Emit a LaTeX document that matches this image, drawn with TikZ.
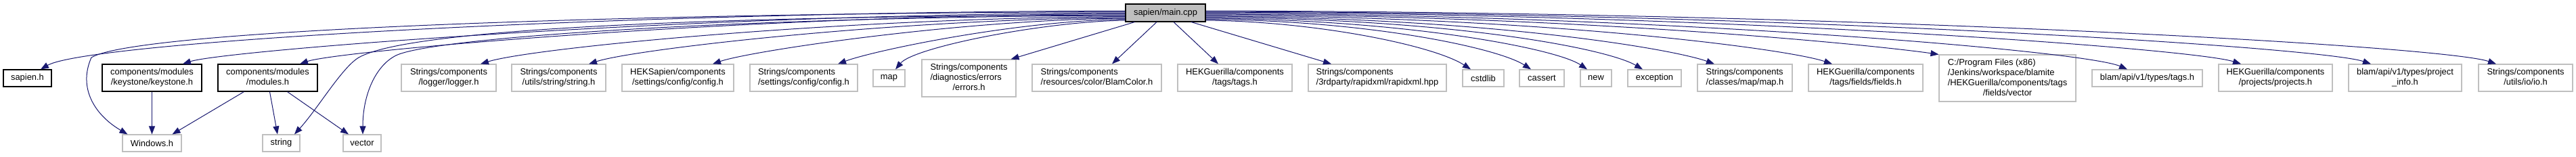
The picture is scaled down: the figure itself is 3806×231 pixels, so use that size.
\documentclass[tikz,border=0pt]{standalone}
\usepackage{fontspec}
\setmainfont{Liberation Sans}
\usetikzlibrary{arrows.meta,calc}
\definecolor{edgeblue}{HTML}{191970}
\definecolor{boxgray}{HTML}{BFBFBF}
\definecolor{rootfill}{HTML}{BFBFBF}
\newcommand{\lbl}[2]{\begin{tabular}{@{}l@{}}#1\\\multicolumn{1}{@{}c@{}}{#2}\end{tabular}}
\begin{document}
\begin{tikzpicture}[x=1pt,y=1pt,
  basebox/.style={inner sep=0pt, line width=1.1pt, font=\fontsize{12.9}{15}\selectfont, align=center},
  bbox/.style={basebox, draw=black},
  gbox/.style={basebox, draw=boxgray},
  rootbox/.style={basebox, draw=black, fill=rootfill},
  dep/.style={draw=edgeblue, line width=1pt, -{Triangle[length=12pt,width=9pt]}}]
\useasboundingbox (0,0) rectangle (3806,-231);
% nodes
\node[rootbox, minimum width=118, minimum height=26] (root) at (1722,-19) {sapien/main.cpp};
\node[bbox, minimum width=71, minimum height=25] (sapien) at (40.5,-115.5) {sapien.h};
\node[bbox, minimum width=147, minimum height=40] (keystone) at (224.5,-115) {\lbl{components/modules}{/keystone/keystone.h}};
\node[bbox, minimum width=147, minimum height=40] (modules) at (395.5,-115) {\lbl{components/modules}{/modules.h}};
\node[gbox, minimum width=140, minimum height=40] (logger) at (663,-115) {\lbl{Strings/components}{/logger/logger.h}};
\node[gbox, minimum width=139, minimum height=40] (stringh) at (825.5,-115) {\lbl{Strings/components}{/utils/string/string.h}};
\node[gbox, minimum width=165, minimum height=40] (heksconfig) at (1001.5,-115) {\lbl{HEKSapien/components}{/settings/config/config.h}};
\node[gbox, minimum width=159, minimum height=40] (strconfig) at (1187.5,-115) {\lbl{Strings/components}{/settings/config/config.h}};
\node[gbox, minimum width=47, minimum height=25] (map) at (1313.5,-115.5) {map};
\node[gbox, minimum width=139, minimum height=55] (errors) at (1431.5,-115.5) {\lbl{Strings/components\\/diagnostics/errors}{/errors.h}};
\node[gbox, minimum width=191, minimum height=40] (blamcolor) at (1620.5,-115) {\lbl{Strings/components}{/resources/color/BlamColor.h}};
\node[gbox, minimum width=169, minimum height=40] (tags) at (1824.5,-115) {\lbl{HEKGuerilla/components}{/tags/tags.h}};
\node[gbox, minimum width=204, minimum height=40] (rapidxml) at (2035,-115) {\lbl{Strings/components}{/3rdparty/rapidxml/rapidxml.hpp}};
\node[gbox, minimum width=61, minimum height=25] (cstdlib) at (2191.5,-115.5) {cstdlib};
\node[gbox, minimum width=66, minimum height=25] (cassert) at (2278,-115.5) {cassert};
\node[gbox, minimum width=46, minimum height=25] (new) at (2358,-115.5) {new};
\node[gbox, minimum width=79, minimum height=25] (exception) at (2444.5,-115.5) {exception};
\node[gbox, minimum width=140, minimum height=40] (mapmap) at (2578,-115) {\lbl{Strings/components}{/classes/map/map.h}};
\node[gbox, minimum width=169, minimum height=40] (fields) at (2756.5,-115) {\lbl{HEKGuerilla/components}{/tags/fields/fields.h}};
\node[gbox, minimum width=202, minimum height=69] (fvector) at (2966,-115.5) {\lbl{C:/Program Files (x86)\\/Jenkins/workspace/blamite\\/HEKGuerilla/components/tags}{/fields/vector}};
\node[gbox, minimum width=163, minimum height=25] (blamtags) at (3172.5,-115.5) {blam/api/v1/types/tags.h};
\node[gbox, minimum width=168, minimum height=40] (projects) at (3362,-115) {\lbl{HEKGuerilla/components}{/projects/projects.h}};
\node[gbox, minimum width=167, minimum height=40] (projinfo) at (3553.5,-115) {\lbl{blam/api/v1/types/project}{\_info.h}};
\node[gbox, minimum width=139, minimum height=40] (io) at (3731.5,-115) {\lbl{Strings/components}{/utils/io/io.h}};
\node[gbox, minimum width=87, minimum height=25] (windows) at (224.5,-211.5) {Windows.h};
\node[gbox, minimum width=55, minimum height=25] (string) at (415.5,-211.5) {string};
\node[gbox, minimum width=56, minimum height=25] (vector) at (535,-211.5) {vector};
% left edges from root
\draw[dep] ($(root.west)+(0,3)$) .. controls (900,-18) and (130,-62) .. ($(sapien.north)+(19.5,0)$);
\draw[dep] ($(root.west)+(0,1.5)$) .. controls (900,-19.5) and (200,-45) .. (135,-85) .. controls (115,-130) and (140,-170) .. ($(windows.north)+(-36,0)$);
\draw[dep] ($(root.west)+(0,0)$) .. controls (1000,-21) and (330,-75) .. ($(keystone.north)+(45.5,0)$);
\draw[dep] ($(root.west)+(0,-1.5)$) .. controls (1100,-22.5) and (500,-75) .. ($(modules.north)+(47.5,0)$);
\draw[dep] ($(root.west)+(0,-3)$) .. controls (1000,-24) and (600,-45) .. (530,-85) .. controls (505,-100) and (470,-160) .. ($(string.north)+(19.5,0)$);
\draw[dep] ($(root.west)+(0,-4)$) .. controls (1100,-25) and (640,-55) .. (585,-82) .. controls (555,-97) and (536,-140) .. ($(vector.north)+(1,0)$);
\draw[dep] ($(root.west)+(0,-5.5)$) .. controls (1250,-26.5) and (790,-70) .. ($(logger.north)+(47,0)$);
\draw[dep] ($(root.west)+(0,-7)$) .. controls (1330,-28) and (940,-72) .. ($(stringh.north)+(44.5,0)$);
\draw[dep] ($(root.west)+(0,-8)$) .. controls (1420,-29) and (1110,-75) .. ($(heksconfig.north)+(51.5,0)$);
\draw[dep] ($(root.west)+(0,-9.5)$) .. controls (1500,-30.5) and (1290,-75) .. ($(strconfig.north)+(50.5,0)$);
\draw[dep] ($(root.west)+(0,-11)$) .. controls (1540,-32) and (1350,-70) .. ($(map.north)+(9.5,0)$);
% bottom edges
\draw[dep] ($(root.south west)+(14,0)$) -- ($(errors.north east)+(-8,0)$);
\draw[dep] ($(root.south)+(-13,0)$) -- ($(blamcolor.north)+(22.5,0)$);
\draw[dep] ($(root.south)+(12,0)$) -- ($(tags.north)+(-24.5,0)$);
\draw[dep] ($(root.south)+(38,0)$) -- ($(rapidxml.north)+(-68,0)$);
% right edges
\draw[dep] ($(root.east)+(0,-11)$) .. controls (1950,-32) and (2120,-68) .. ($(cstdlib.north)+(-18.5,0)$);
\draw[dep] ($(root.east)+(0,-9.5)$) .. controls (2030,-30.5) and (2215,-72) .. ($(cassert.north)+(-16,0)$);
\draw[dep] ($(root.east)+(0,-8)$) .. controls (2080,-29) and (2300,-72) .. ($(new.north)+(-13,0)$);
\draw[dep] ($(root.east)+(0,-6.5)$) .. controls (2150,-27.5) and (2375,-72) .. ($(exception.north)+(-17.5,0)$);
\draw[dep] ($(root.east)+(0,-5)$) .. controls (2200,-26) and (2470,-72) .. ($(mapmap.north)+(-45,0)$);
\draw[dep] ($(root.east)+(0,-3.5)$) .. controls (2280,-24.5) and (2640,-72) .. ($(fields.north)+(-49.5,0)$);
\draw[dep] ($(root.east)+(0,-2)$) .. controls (2350,-23) and (2780,-68) .. (fvector.north west);
\draw[dep] ($(root.east)+(0,-0.5)$) .. controls (2450,-21.5) and (3080,-75) .. ($(blamtags.north)+(-29.5,0)$);
\draw[dep] ($(root.east)+(0,1)$) .. controls (2550,-20) and (3240,-72) .. ($(projects.north)+(-51,0)$);
\draw[dep] ($(root.east)+(0,2)$) .. controls (2650,-19) and (3430,-70) .. ($(projinfo.north)+(-50.5,0)$);
\draw[dep] ($(root.east)+(0,3)$) .. controls (2750,-18) and (3610,-68) .. ($(io.north)+(-43.5,0)$);
% second level edges
\draw[dep] (keystone.south) -- (windows.north);
\draw[dep] ($(modules.south)+(-35,0)$) -- ($(windows.north)+(30,0)$);
\draw[dep] ($(modules.south)+(3,0)$) -- ($(string.north)+(-5.5,0)$);
\draw[dep] ($(modules.south)+(29,0)$) -- ($(vector.north)+(-20,0)$);
\end{tikzpicture}
\end{document}
